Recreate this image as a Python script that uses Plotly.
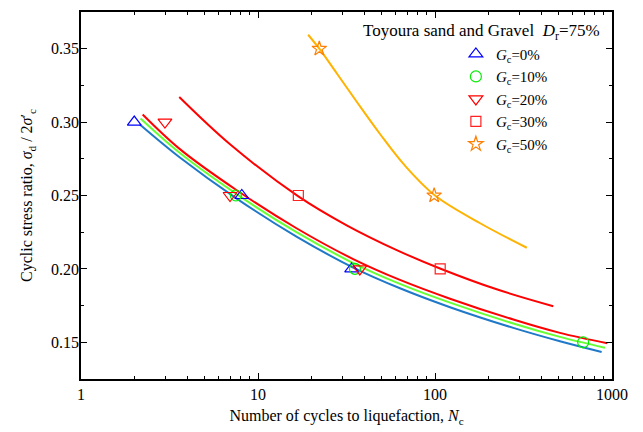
import plotly.graph_objects as go

# ---------- data ----------
# measured points
n_gc0 = [2.0, 8.1, 33.8]
csr_gc0 = [0.30, 0.25, 0.20]
n_gc10 = [7.5, 35.3, 687.0]
csr_gc10 = [0.25, 0.20, 0.15]
n_gc20 = [2.98, 6.95, 37.6]
csr_gc20 = [0.30, 0.25, 0.20]
n_gc30 = [16.9, 107.0]
csr_gc30 = [0.25, 0.20]
n_gc50 = [22.2, 98.9]
csr_gc50 = [0.35, 0.25]

# fitted curves
fit0_n = [2.15, 3.62, 7.58, 16.5, 34.5, 63.4, 121.6, 277.0, 508.0, 874.0]
fit0_csr = [0.2984, 0.2759, 0.2479, 0.2220, 0.2009, 0.1868, 0.1739, 0.1598, 0.1507, 0.1434]
fit10_n = [2.17, 3.62, 7.58, 16.5, 34.5, 63.4, 121.6, 277.0, 508.0, 913.0]
fit10_csr = [0.3024, 0.2789, 0.2509, 0.2250, 0.2040, 0.1898, 0.1770, 0.1628, 0.1537, 0.1463]
fit20_n = [2.23, 3.62, 7.58, 16.5, 34.5, 63.4, 121.6, 277.0, 508.0, 941.0]
fit20_csr = [0.3052, 0.2816, 0.2536, 0.2277, 0.2067, 0.1925, 0.1797, 0.1655, 0.1564, 0.1493]
fit30_n = [3.59, 6.95, 16.9, 31.7, 60.8, 106.7, 223.0, 466.0]
fit30_csr = [0.3171, 0.2849, 0.2494, 0.2297, 0.2128, 0.2003, 0.1861, 0.1746]
fit50_n = [19.2, 22.2, 27.9, 36.3, 48.9, 67.7, 100.0, 180.0, 330.0]
fit50_csr = [0.3595, 0.3500, 0.3331, 0.3135, 0.2919, 0.2703, 0.2500, 0.2311, 0.2144]

legend_labels = ["<i>G</i><sub>c</sub>=0%", "<i>G</i><sub>c</sub>=10%",
                 "<i>G</i><sub>c</sub>=20%", "<i>G</i><sub>c</sub>=30%",
                 "<i>G</i><sub>c</sub>=50%"]
x_tickvals = [1, 10, 100, 1000]
x_ticktext = ["1", "10", "100", "1000"]
x_minor = [2, 3, 4, 5, 6, 7, 8, 9, 20, 30, 40, 50, 60, 70, 80, 90,
           200, 300, 400, 500, 600, 700, 800, 900]
y_tickvals = [0.15, 0.20, 0.25, 0.30, 0.35]

FONT = "Liberation Serif, Times New Roman, serif"

fig = go.Figure()

# fitted lines (no legend)
line_specs = [
    (fit0_n, fit0_csr, "#1f78c8"),
    (fit10_n, fit10_csr, "#66ff33"),
    (fit20_n, fit20_csr, "#ff0000"),
    (fit30_n, fit30_csr, "#ff0000"),
    (fit50_n, fit50_csr, "#ffb300"),
]
for xs, ys, col in line_specs:
    fig.add_trace(go.Scatter(x=xs, y=ys, mode="lines", showlegend=False,
                             line=dict(color=col, width=2, shape="spline", smoothing=1.0),
                             hoverinfo="skip"))

marker_specs = [
    (n_gc0, csr_gc0, "triangle-up-open", "#0000ff", 12),
    (n_gc10, csr_gc10, "circle-open", "#00ee00", 11),
    (n_gc20, csr_gc20, "triangle-down-open", "#ff0000", 12),
    (n_gc30, csr_gc30, "square-open", "#ff2020", 10),
    (n_gc50, csr_gc50, "star-open", "#ff7f00", 11),
]
for (xs, ys, sym, col, sz), lab in zip(marker_specs, legend_labels):
    fig.add_trace(go.Scatter(x=xs, y=ys, mode="markers", name=lab,
                             marker=dict(symbol=sym, color=col, size=sz,
                                         line=dict(color=col, width=1.2))))

fig.add_annotation(text="Toyoura sand and Gravel  <i>D</i><sub>r</sub>=75%",
                   xref="paper", yref="paper", x=0.981, y=0.946,
                   xanchor="right", yanchor="middle", showarrow=False,
                   font=dict(family=FONT, size=17, color="black"))

fig.update_layout(
    width=643, height=432,
    margin=dict(l=81, r=31, t=10, b=52),
    paper_bgcolor="white", plot_bgcolor="white",
    font=dict(family=FONT, size=16, color="black"),
    legend=dict(x=0.706, y=0.93, xanchor="left", yanchor="top",
                bgcolor="rgba(0,0,0,0)", font=dict(family=FONT, size=15),
                tracegroupgap=0),
)
fig.update_xaxes(type="log", range=[0, 3], tickvals=x_tickvals, ticktext=x_ticktext,
                 ticks="inside", ticklen=6, tickwidth=1, tickcolor="black",
                 showline=True, linecolor="black", linewidth=1.5, mirror="ticks",
                 showgrid=False, zeroline=False,
                 minor=dict(ticks="inside", ticklen=3, tickcolor="black",
                            tickvals=x_minor, showgrid=False),
                 title=dict(text="Number of cycles to liquefaction, <i>N</i><sub>c</sub>",
                            font=dict(family=FONT, size=16), standoff=8),
                 tickfont=dict(family=FONT, size=16))
fig.update_yaxes(range=[0.125, 0.375], tickvals=y_tickvals, tickformat=".2f",
                 ticks="inside", ticklen=6, tickwidth=1, tickcolor="black",
                 showline=True, linecolor="black", linewidth=1.5, mirror="ticks",
                 showgrid=False, zeroline=False, ticklabelstandoff=-3,
                 minor=dict(ticks="inside", ticklen=3, tickcolor="black", dtick=0.025,
                            showgrid=False),
                 title=dict(text="Cyclic stress ratio, <i>σ</i><sub>d</sub> / 2<i>σ</i>′<sub>c</sub>",
                            font=dict(family=FONT, size=16), standoff=14),
                 tickfont=dict(family=FONT, size=16))

fig.write_html("out.html")
